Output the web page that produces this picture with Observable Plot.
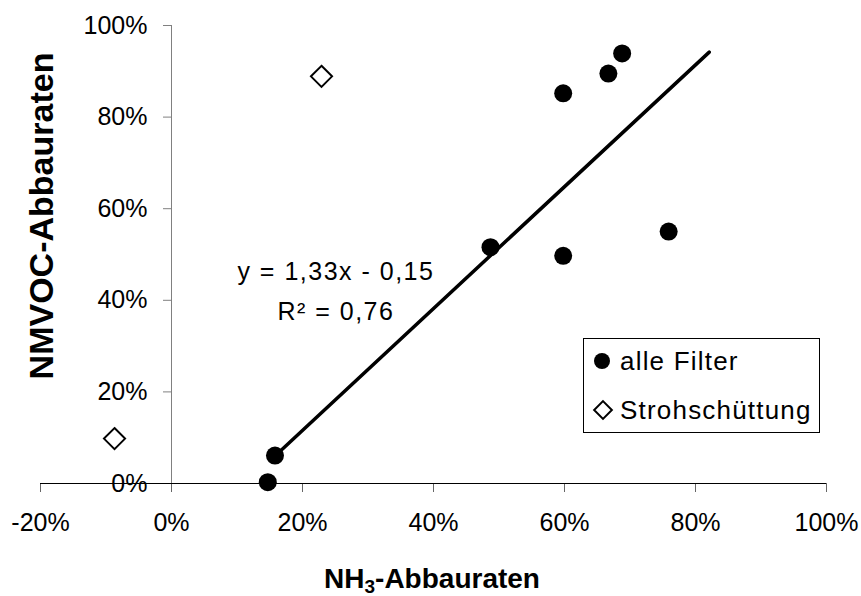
<!DOCTYPE html>
<html>
<head>
<meta charset="utf-8">
<script src="https://cdn.jsdelivr.net/npm/d3@7"></script>
<script src="https://cdn.jsdelivr.net/npm/@observablehq/plot@0.6"></script>
<style>
  html, body { margin: 0; padding: 0; background: #fff; }
  svg { font-family: "Liberation Sans", Arial, sans-serif; }
</style>
</head>
<body>
<div id="chart"></div>
<script>
// ---- data ----
const filterX = [0.147, 0.158, 0.487, 0.598, 0.598, 0.667, 0.688, 0.759];
const filterY = [0.003, 0.061, 0.516, 0.852, 0.497, 0.895, 0.939, 0.550];
const strohX = [-0.087, 0.229];
const strohY = [0.098, 0.889];
const trendSlope = 1.33;
const trendIntercept = -0.15;
const trendXEnds = [0.158, 0.821];
const xTicks = [-0.2, 0, 0.2, 0.4, 0.6, 0.8, 1.0];
const yTicks = [0, 0.2, 0.4, 0.6, 0.8, 1.0];
const seriesNames = ["alle Filter", "Strohschüttung"];
const equationLines = ["y = 1,33x - 0,15", "R² = 0,76"];
const xTitle = "NH3-Abbauraten";
const yTitle = "NMVOC-Abbauraten";

const filterPts = filterX.map((x, i) => ({x, y: filterY[i]}));
const strohPts = strohX.map((x, i) => ({x, y: strohY[i]}));
const trendPts = trendXEnds.map(x => ({x, y: trendSlope * x + trendIntercept}));
const pct = d => `${Math.round(d * 100)}%`;
const FONT = "Liberation Sans, Arial, sans-serif";

const plot = Plot.plot({
  width: 861,
  height: 596,
  marginLeft: 40,
  marginRight: 35,
  marginTop: 25,
  marginBottom: 113,
  style: {fontFamily: FONT, background: "#fff", overflow: "visible"},
  x: {domain: [-0.2, 1.0], axis: null},
  y: {domain: [0, 1.0], axis: null},
  marks: [
    // y axis at x = 0
    Plot.ruleX([0], {stroke: "#808080", strokeWidth: 1}),
    Plot.ruleY(yTicks, {y: d => d, x1: 0, x2: 0, insetLeft: -8, stroke: "#808080"}),
    Plot.text(yTicks, {x: 0, y: d => d, text: pct, textAnchor: "end", dx: -24, fontSize: 25, fill: "#000"}),
    // x axis at y = 0
    Plot.ruleX(xTicks, {x: d => d, y1: 0, y2: 0, insetBottom: -9, stroke: "#666"}),
    Plot.ruleY([0], {stroke: "#000", strokeWidth: 1}),
    Plot.text(xTicks, {x: d => d, y: 0, text: pct, dy: 39, fontSize: 25, fill: "#000"}),
    // trend line
    Plot.line(trendPts, {x: "x", y: "y", stroke: "#000", strokeWidth: 3.5}),
    // points
    Plot.dot(filterPts, {x: "x", y: "y", r: 9, fill: "#000", stroke: null}),
    Plot.dot(strohPts, {x: "x", y: "y", symbol: "diamond2", r: 9.5, fill: "#fff", stroke: "#000", strokeWidth: 2}),
    // regression annotation
    Plot.text([equationLines[0]], {x: 0.251, y: 0.462, text: d => d, fontSize: 25, fill: "#000", style: "letter-spacing:1.5px"}),
    Plot.text([equationLines[1]], {x: 0.251, y: 0.375, text: d => d, fontSize: 25, fill: "#000"})
  ]
});

document.getElementById("chart").appendChild(plot);
const svg = d3.select(plot);
svg.selectAll("text").filter(function() { return this.textContent === equationLines[0] || this.textContent === equationLines[1]; })
  .attr("letter-spacing", "1.5px");

// y title
svg.append("text")
  .attr("transform", "translate(53,216) rotate(-90)")
  .attr("text-anchor", "middle")
  .attr("font-family", FONT)
  .attr("font-weight", "bold")
  .attr("font-size", 34)
  .attr("fill", "#000")
  .text(yTitle);

// x title with subscript
const xt = svg.append("text")
  .attr("x", 432).attr("y", 588)
  .attr("text-anchor", "middle")
  .attr("font-family", FONT)
  .attr("font-weight", "bold")
  .attr("font-size", 28)
  .attr("fill", "#000");
xt.append("tspan").text(xTitle.slice(0, 2));
xt.append("tspan").attr("font-size", 19).attr("dy", 5).text(xTitle.slice(2, 3));
xt.append("tspan").attr("dy", -5).text(xTitle.slice(3));

// legend
const lg = svg.append("g");
lg.append("rect")
  .attr("x", 583.5).attr("y", 338.5).attr("width", 236).attr("height", 94)
  .attr("fill", "#fff").attr("stroke", "#000").attr("stroke-width", 1);
const rowsY = [361, 410];
lg.append("circle").attr("cx", 602).attr("cy", rowsY[0]).attr("r", 8).attr("fill", "#000");
lg.append("path")
  .attr("transform", `translate(603,${rowsY[1]})`)
  .attr("d", d3.symbol(d3.symbolDiamond2, 200)())
  .attr("fill", "#fff").attr("stroke", "#000").attr("stroke-width", 2);
seriesNames.forEach((name, i) => {
  lg.append("text")
    .attr("x", 620).attr("y", rowsY[i] + 9)
    .attr("text-anchor", "start")
    .attr("font-family", FONT)
    .attr("font-size", 26)
    .attr("letter-spacing", "1.2px")
    .attr("fill", "#000")
    .text(name);
});
</script>
</body>
</html>
